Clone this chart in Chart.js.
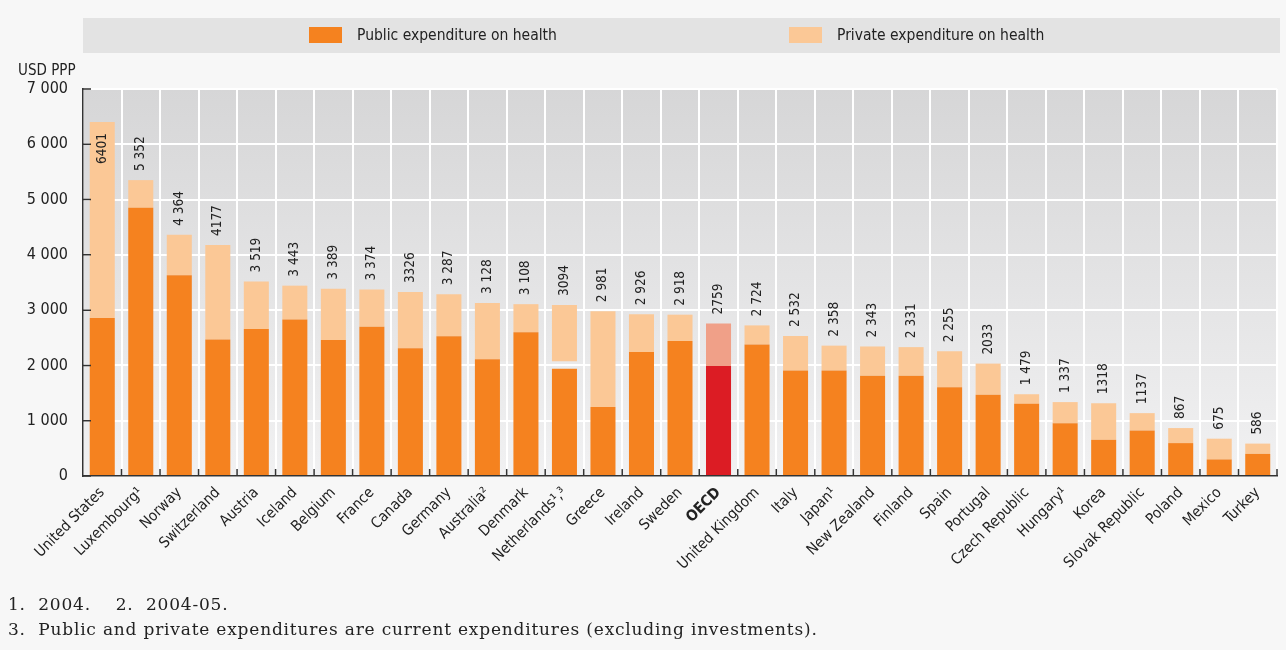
<!DOCTYPE html>
<html>
<head>
<meta charset="utf-8">
<script src="https://cdn.jsdelivr.net/npm/chart.js@4.4.0/dist/chart.umd.min.js"></script>
<style>
body { margin: 0; background: #f7f7f7; }
#wrap { position: relative; width: 1286px; height: 650px; }
#chart { position: absolute; left: 0; top: 0; }
.unit { position: absolute; left: 18px; top: 61px; font-family: 'DejaVu Sans Condensed', 'Liberation Sans', sans-serif; font-size: 15px; color: #222; }
.note { position: absolute; left: 8px; font-family: 'DejaVu Serif', 'Liberation Serif', serif; font-size: 17px; letter-spacing: 0.8px; color: #222; white-space: pre; }
</style>
</head>
<body>
<div id="wrap">
	<canvas id="chart" width="1286" height="650"></canvas>
	<div class="unit">USD PPP</div>
	<div class="note" style="top:594px">1.  2004.    2.  2004-05.</div>
	<div class="note" style="top:619px">3.  Public and private expenditures are current expenditures (excluding investments).</div>
</div>
<script>
const countries = ['United States', 'Luxembourg¹', 'Norway', 'Switzerland', 'Austria', 'Iceland', 'Belgium', 'France',
	'Canada', 'Germany', 'Australia²', 'Denmark', 'Netherlands¹,³', 'Greece', 'Ireland', 'Sweden', 'OECD',
	'United Kingdom', 'Italy', 'Japan¹', 'New Zealand', 'Finland', 'Spain', 'Portugal', 'Czech Republic',
	'Hungary¹', 'Korea', 'Slovak Republic', 'Poland', 'Mexico', 'Turkey'];

const totals = [6401, 5352, 4364, 4177, 3519, 3443, 3389, 3374, 3326, 3287, 3128, 3108, 3094, 2981, 2926, 2918,
	2759, 2724, 2532, 2358, 2343, 2331, 2255, 2033, 1479, 1337, 1318, 1137, 867, 675, 586];

const totalLabels = ['6401', '5 352', '4 364', '4177', '3 519', '3 443', '3 389', '3 374', '3326', '3 287', '3 128',
	'3 108', '3094', '2 981', '2 926', '2 918', '2759', '2 724', '2 532', '2 358', '2 343', '2 331', '2 255', '2033',
	'1 479', '1 337', '1318', '1137', '867', '675', '586'];

const publicSpend = [2860, 4850, 3630, 2470, 2660, 2830, 2460, 2700, 2310, 2530, 2110, 2600, 1940, 1250, 2245, 2440,
	1990, 2380, 1910, 1910, 1815, 1815, 1605, 1470, 1305, 955, 655, 825, 595, 300, 400];

// Netherlands: space between public and private (investments not counted)
const notCounted = [0, 0, 0, 0, 0, 0, 0, 0, 0, 0, 0, 0, 136, 0, 0, 0,
	0, 0, 0, 0, 0, 0, 0, 0, 0, 0, 0, 0, 0, 0, 0];

const privateSpend = [3541, 502, 734, 1707, 859, 613, 929, 674, 1016, 757, 1018, 508, 1018, 1731, 681, 478,
	769, 344, 622, 448, 528, 516, 650, 563, 174, 382, 663, 312, 272, 375, 186];

const OECD_IDX = 16;
const FONT = "'DejaVu Sans Condensed', 'Liberation Sans', sans-serif";

const colPublic = countries.map((c, i) => i === OECD_IDX ? '#dc1c24' : '#f5821f');
const colPrivate = countries.map((c, i) => i === OECD_IDX ? '#f0a088' : '#fbc896');

const backdrop = {
	id: 'backdrop',
	beforeDraw(chart) {
		const ctx = chart.ctx;
		const a = chart.chartArea;
		ctx.save();
		ctx.fillStyle = '#f7f7f7';
		ctx.fillRect(0, 0, chart.width, chart.height);
		// legend band
		ctx.fillStyle = '#e3e3e3';
		ctx.fillRect(a.left, 18, a.right - a.left + 3, 35);
		const g = ctx.createLinearGradient(0, a.top, 0, a.bottom);
		g.addColorStop(0, '#d6d6d7');
		g.addColorStop(1, '#f1f1f2');
		ctx.fillStyle = g;
		ctx.fillRect(a.left, a.top, a.right - a.left, a.bottom - a.top);
		ctx.restore();
	},
	afterDraw(chart) {
		const ctx = chart.ctx;
		const items = [
			{ ds: chart.data.datasets[0], x: 309 },
			{ ds: chart.data.datasets[2], x: 789 }
		];
		ctx.save();
		ctx.font = '15.5px ' + FONT;
		ctx.textBaseline = 'middle';
		items.forEach(it => {
			ctx.fillStyle = it.ds.legendColor;
			ctx.fillRect(it.x, 27, 33, 16);
			ctx.fillStyle = '#222';
			ctx.fillText(it.ds.label, it.x + 48, 36);
		});
		ctx.restore();
	}
};

const inwardTicks = {
	id: 'inwardTicks',
	afterDraw(chart) {
		const ctx = chart.ctx;
		const a = chart.chartArea;
		const xs = chart.scales.x;
		const ys = chart.scales.y;
		ctx.save();
		ctx.strokeStyle = '#333';
		ctx.lineWidth = 1.5;
		ctx.beginPath();
		ys.ticks.forEach(t => {
			const y = ys.getPixelForValue(t.value);
			ctx.moveTo(a.left, y);
			ctx.lineTo(a.left + 8, y);
		});
		for (let i = 0; i < countries.length; i++) {
			const x = i < countries.length - 1
				? (xs.getPixelForValue(i) + xs.getPixelForValue(i + 1)) / 2
				: a.right;
			ctx.moveTo(x, a.bottom);
			ctx.lineTo(x, a.bottom - 7);
		}
		ctx.stroke();
		ctx.restore();
	}
};

const totalsOnTop = {
	id: 'totalsOnTop',
	afterDatasetsDraw(chart) {
		const ctx = chart.ctx;
		const ys = chart.scales.y;
		const meta = chart.getDatasetMeta(2);
		ctx.save();
		ctx.font = '13.5px ' + FONT;
		ctx.fillStyle = '#222';
		ctx.textBaseline = 'middle';
		totals.forEach((v, i) => {
			const x = meta.data[i].x;
			const y = ys.getPixelForValue(v);
			const w = ctx.measureText(totalLabels[i]).width;
			ctx.save();
			ctx.translate(x, y);
			ctx.rotate(-Math.PI / 2);
			if (y - 9 - w < chart.chartArea.top) {
				ctx.textAlign = 'right';
				ctx.fillText(totalLabels[i], -11, 0);
			} else {
				ctx.textAlign = 'left';
				ctx.fillText(totalLabels[i], 9, 0);
			}
			ctx.restore();
		});
		ctx.restore();
	}
};

new Chart(document.getElementById('chart'), {
	type: 'bar',
	data: {
		labels: countries,
		datasets: [
			{ label: 'Public expenditure on health', data: publicSpend, backgroundColor: colPublic, legendColor: '#f5821f' },
			{ label: 'not counted', data: notCounted, backgroundColor: 'rgba(0,0,0,0)' },
			{ label: 'Private expenditure on health', data: privateSpend, backgroundColor: colPrivate, legendColor: '#fbc896' }
		]
	},
	options: {
		responsive: false,
		animation: false,
		datasets: { bar: { categoryPercentage: 1, barPercentage: 0.65, borderWidth: 0 } },
		layout: { padding: { left: 0, right: 9, top: 89, bottom: 0 } },
		plugins: {
			legend: { display: false },
			tooltip: { enabled: false }
		},
		scales: {
			x: {
				stacked: true,
				afterFit: s => { s.height = 174; },
				grid: { offset: true, color: '#ffffff', lineWidth: 2, drawTicks: false },
				border: { display: true, color: '#333', width: 1.5 },
				ticks: {
					autoSkip: false,
					maxRotation: 45,
					minRotation: 45,
					padding: 8,
					color: '#222',
					font: c => ({ family: FONT, size: 15, weight: c.index === OECD_IDX ? 'bold' : 'normal' })
				}
			},
			y: {
				stacked: true,
				min: 0,
				max: 7000,
				afterFit: s => { s.width = 83; },
				grid: { color: '#ffffff', lineWidth: 2, drawTicks: false },
				border: { display: true, color: '#333', width: 1.5 },
				ticks: {
					stepSize: 1000,
					padding: 15,
					color: '#222',
					font: { family: FONT, size: 16 },
					callback: v => String(v).replace(/\B(?=(\d{3})+(?!\d))/g, ' ')
				}
			}
		}
	},
	plugins: [backdrop, inwardTicks, totalsOnTop]
});
</script>
</body>
</html>
